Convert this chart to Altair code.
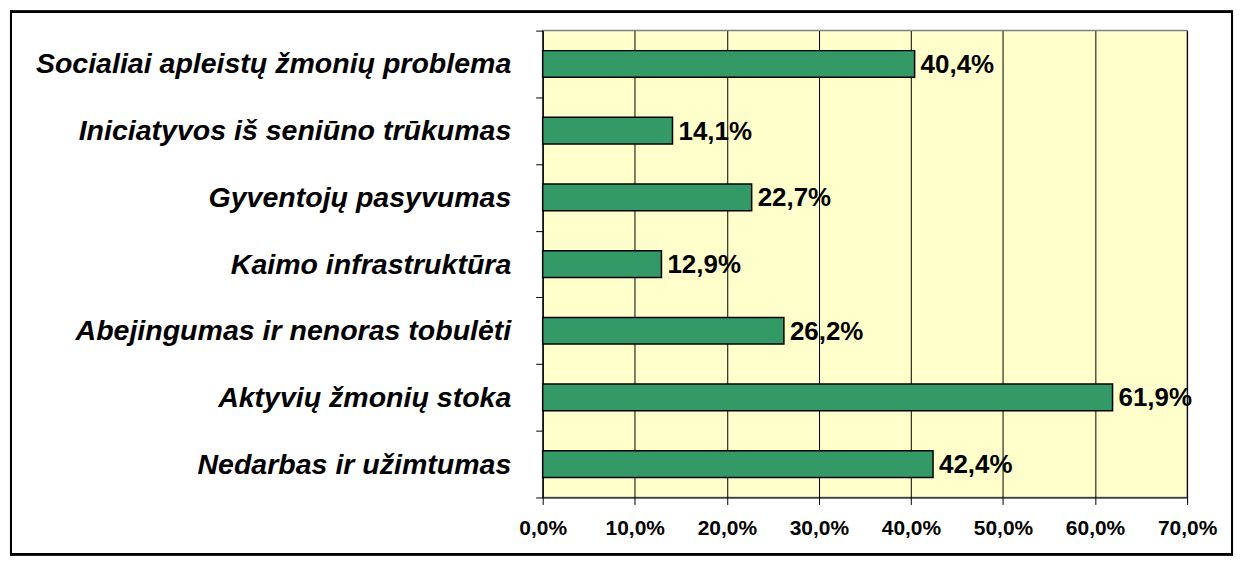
import altair as alt
import pandas as pd

categories = [
    "Socialiai apleistų žmonių problema",
    "Iniciatyvos iš seniūno trūkumas",
    "Gyventojų pasyvumas",
    "Kaimo infrastruktūra",
    "Abejingumas ir nenoras tobulėti",
    "Aktyvių žmonių stoka",
    "Nedarbas ir užimtumas",
]
values = [40.4, 14.1, 22.7, 12.9, 26.2, 61.9, 42.4]
x_ticks = [0, 10, 20, 30, 40, 50, 60, 70]

df = pd.DataFrame({"cat": categories, "val": values})
FONT = "Liberation Sans"

y_enc = alt.Y(
    "cat:N",
    sort=categories,
    title=None,
    scale=alt.Scale(paddingInner=0, paddingOuter=0),
    axis=alt.Axis(
        tickBand="extent",
        labelFont=FONT,
        labelFontSize=28.6,
        labelFontWeight="bold",
        labelFontStyle="italic",
        labelColor="black",
        labelPadding=25,
        tickSize=7,
        tickColor="black",
        domainColor="black",
        labelLimit=600,
    ),
)
x_enc = alt.X(
    "val:Q",
    title=None,
    scale=alt.Scale(domain=[0, 70], nice=False),
    axis=alt.Axis(
        values=x_ticks,
        labelExpr="replace(format(datum.value, '.1f'), '.', ',') + '%'",
        labelFont=FONT,
        labelFontSize=21,
        labelFontWeight="bold",
        labelColor="black",
        labelPadding=13,
        labelFlush=False,
        labelOverlap=False,
        tickSize=7,
        tickColor="black",
        domainColor="black",
        grid=True,
        gridColor="black",
        gridOpacity=1,
        gridWidth=1,
    ),
)

bars = alt.Chart(df).mark_bar(
    color="#339966", stroke="black", strokeWidth=1.5, height={"band": 0.4}
).encode(x=x_enc, y=y_enc)

labels = alt.Chart(df).transform_calculate(
    lab="replace(format(datum.val, '.1f'), '.', ',') + '%'"
).mark_text(
    align="left", baseline="middle", dx=6, dy=1, font=FONT, fontSize=26,
    fontWeight="bold", color="black"
).encode(x="val:Q", y=alt.Y("cat:N", sort=categories), text="lab:N")

border = alt.Chart(df).mark_rect(
    fill=None, stroke="black", strokeWidth=2, clip=False
).encode(
    x=alt.value(-533), x2=alt.value(691), y=alt.value(-19), y2=alt.value(525)
)

chart = alt.layer(border, bars, labels).properties(
    width=646, height=468,
    padding={"left": 536, "top": 22, "right": 50, "bottom": 60},
    autosize=alt.AutoSizeParams(type="none"),
).configure_view(
    fill="#FFFFCC", stroke="#808080", strokeWidth=1.5
)

chart.save("out.html", embed_options={"renderer": "svg", "actions": False})
